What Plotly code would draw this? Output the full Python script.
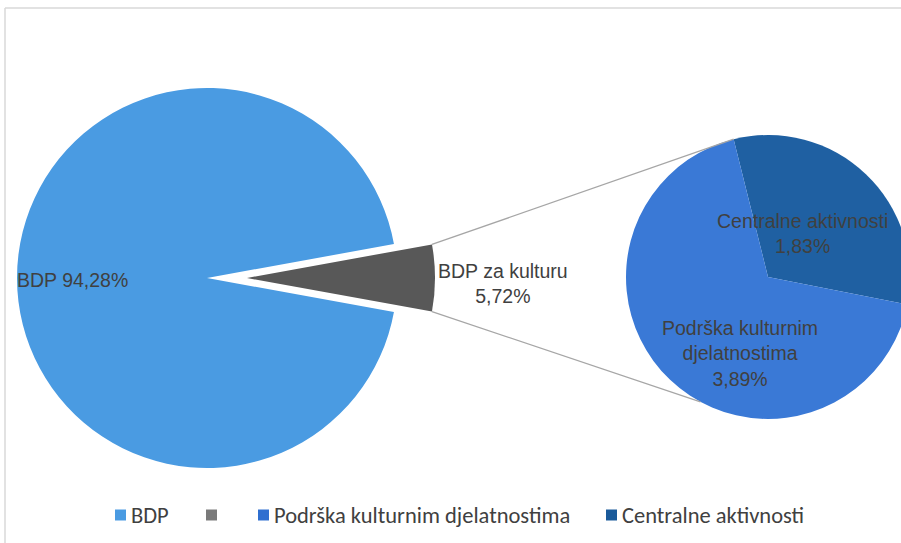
import math
import plotly.graph_objects as go

W, H = 912, 543   # page is clipped to the 901px window (overflow hidden)

# ---------------- data ----------------
main_labels = ["BDP", "BDP za kulturu"]
main_values = [94.28, 5.72]
sub_labels = ["Centralne aktivnosti", "Podrška kulturnim djelatnostima"]
sub_values = [1.83, 3.89]
legend_labels = ["BDP", "", "Podrška kulturnim djelatnostima", "Centralne aktivnosti"]

# ---------------- style ----------------
C_BDP = "#4a9be2"
C_GRAY = "#585858"
C_POD = "#3a79d6"
C_CEN = "#1f60a2"
C_NONE = "rgba(0,0,0,0)"
TEXT = "#404040"
LABEL_FONT = "Liberation Sans Narrow, Arial Narrow, Liberation Sans, Arial, sans-serif"
LEGEND_FONT = "Carlito, Calibri, Lato, sans-serif"

# geometry in pixels
MAIN_C, MAIN_R = (207, 278), 190
GRAY_C, GRAY_R = (247, 278), 188
SUB_C, SUB_R = (768, 277), 142
SUB_START = 104.0     # math angle (deg) where first sub slice starts
SUB_LOW = 241.6       # math angle of lower connector point


def dom(c, r):
    cx, cy = c
    return dict(x=[max(0, (cx - r) / W), min(1, (cx + r) / W)],
                y=[max(0, 1 - (cy + r) / H), min(1, 1 - (cy - r) / H)])


def px(x, y):
    return x / W, 1 - y / H


half = main_values[1] / sum(main_values) * 180.0

fig = go.Figure()
# main pie (BDP) with empty gap where the exploded slice was
fig.add_trace(go.Pie(
    labels=[main_labels[1] + " ", main_labels[0]],
    values=[main_values[1], main_values[0]],
    marker=dict(colors=[C_NONE, C_BDP], line=dict(width=0)),
    sort=False, direction="clockwise", rotation=90 - half,
    textinfo="none", hoverinfo="skip", showlegend=False,
    domain=dom(MAIN_C, MAIN_R)))
# exploded gray slice
fig.add_trace(go.Pie(
    labels=[main_labels[1], main_labels[0] + " "],
    values=[main_values[1], main_values[0]],
    marker=dict(colors=[C_GRAY, C_NONE], line=dict(width=0)),
    sort=False, direction="clockwise", rotation=90 - half,
    textinfo="none", hoverinfo="skip", showlegend=False,
    domain=dom(GRAY_C, GRAY_R)))
# second pie
fig.add_trace(go.Pie(
    labels=sub_labels, values=sub_values,
    marker=dict(colors=[C_CEN, C_POD], line=dict(width=0)),
    sort=False, direction="clockwise", rotation=90 - SUB_START,
    textinfo="none", hoverinfo="skip", showlegend=False,
    domain=dom(SUB_C, SUB_R)))

shapes = []
# frame
shapes.append(dict(type="line", xref="paper", yref="paper",
                   x0=px(5, 8)[0], y0=px(5, 8)[1], x1=1, y1=px(5, 8)[1],
                   line=dict(color="#d9d9d9", width=1.5)))
shapes.append(dict(type="line", xref="paper", yref="paper",
                   x0=px(5, 8)[0], y0=px(5, 8)[1], x1=px(5, 8)[0], y1=0,
                   line=dict(color="#d9d9d9", width=1.5)))

# connector lines
for sgn, ang in [(1, SUB_START), (-1, SUB_LOW)]:
    a = math.radians(half) * sgn
    x0 = GRAY_C[0] + GRAY_R * math.cos(a)
    y0 = GRAY_C[1] - GRAY_R * math.sin(a)
    b = math.radians(ang)
    x1 = SUB_C[0] + SUB_R * math.cos(b)
    y1 = SUB_C[1] - SUB_R * math.sin(b)
    p0, p1 = px(x0, y0), px(x1, y1)
    shapes.append(dict(type="line", xref="paper", yref="paper",
                       x0=p0[0], y0=p0[1], x1=p1[0], y1=p1[1],
                       line=dict(color="#a6a6a6", width=1.3)))

annotations = []


def lab(text, x, y, xanchor="center"):
    p = px(x, y)
    annotations.append(dict(text=text, x=p[0], y=p[1], xref="paper", yref="paper",
                            showarrow=False, xanchor=xanchor, yanchor="middle",
                            align="center",
                            font=dict(family=LABEL_FONT, size=19.5, color=TEXT)))


def pct(v):
    return f"{v:.2f}".replace(".", ",") + "%"


lab(f"{main_labels[0]} {pct(main_values[0])}", 15, 280, "left")
lab(f"{main_labels[1]}<br>{pct(main_values[1])}", 503, 283)
lab(f"{sub_labels[0]}<br>{pct(sub_values[0])}", 802, 233)
lab("Podrška kulturnim<br>djelatnostima<br>" + pct(sub_values[1]), 740, 353)

# legend
leg_colors = [C_BDP, "#7a7a7a", "#2f6fd0", "#1a5a9a"]
leg_x = [115, 206, 258, 606]
leg_y = 515
for name, col, x in zip(legend_labels, leg_colors, leg_x):
    a0 = px(x, leg_y - 5.5)
    a1 = px(x + 11, leg_y + 5.5)
    shapes.append(dict(type="rect", xref="paper", yref="paper",
                       x0=a0[0], y0=a0[1], x1=a1[0], y1=a1[1],
                       fillcolor=col, line=dict(width=0)))
    if name:
        p = px(x + 14, leg_y)
        annotations.append(dict(text=name, x=p[0], y=p[1], xref="paper", yref="paper",
                                showarrow=False, xanchor="left", yanchor="middle",
                                font=dict(family=LEGEND_FONT, size=22.5, color=TEXT)))

fig.update_layout(width=W, height=H, margin=dict(l=0, r=0, t=0, b=0),
                  paper_bgcolor="white", plot_bgcolor="white",
                  shapes=shapes, annotations=annotations, showlegend=False)

fig.write_html("out.html", config={"displayModeBar": False},
               post_script="document.body.style.margin='0';"
                           "document.documentElement.style.overflow='hidden';"
                           "document.body.style.overflow='hidden';")
